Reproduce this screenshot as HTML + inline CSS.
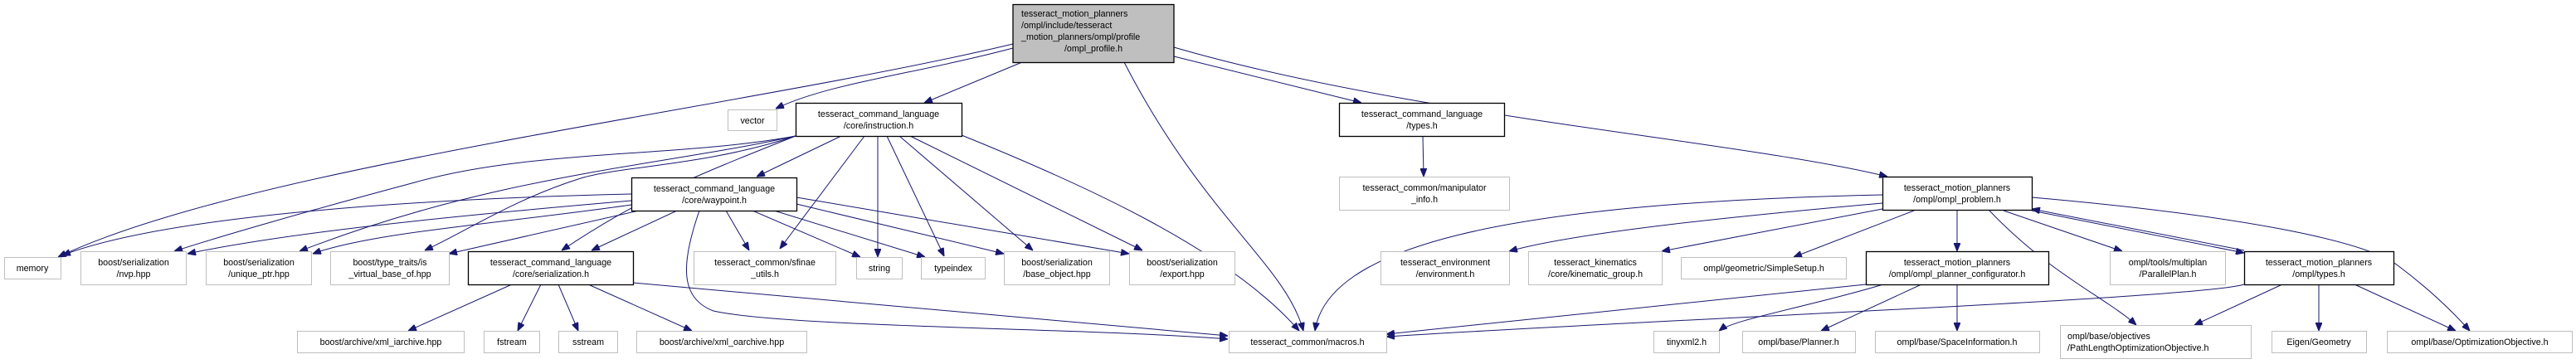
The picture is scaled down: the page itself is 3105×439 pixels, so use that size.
<!DOCTYPE html>
<html><head><meta charset="utf-8">
<style>
html,body{margin:0;padding:0;background:#fff;}
svg{display:block;}
text{font-family:"Liberation Sans",Arial,sans-serif;font-size:10.7px;fill:#000;}
.n{fill:#fff;stroke:#000;stroke-width:1.3;}
.g{fill:#fff;stroke:#bfbfbf;stroke-width:1;}
.e{fill:none;stroke:#191970;stroke-width:1;}
</style></head>
<body>
<svg width="3105" height="439" viewBox="0 0 3105 439" xmlns="http://www.w3.org/2000/svg">
<defs>
<marker id="a" markerWidth="10" markerHeight="8" refX="10" refY="4" orient="auto" markerUnits="userSpaceOnUse">
<path d="M0,0 L10,4 L0,8 Z" fill="#191970" stroke="#191970"/>
</marker>
</defs>
<g marker-end="url(#a)">
<!-- main -->
<path class="e" d="M1221,53 C900,130 300,200 70,310"/>
<path class="e" d="M1221,58 C1100,90 1000,100 935,131"/>
<path class="e" d="M1232,75 L1114,124"/>
<path class="e" d="M1355,75 C1450,260 1550,320 1571,399"/>
<path class="e" d="M1415,68 L1641,124"/>
<path class="e" d="M1415,57 C1700,140 2100,170 2275,213"/>
<!-- instruction -->
<path class="e" d="M959,164 C820,190 640,180 500,220 C350,260 250,290 210,303"/>
<path class="e" d="M959,164 C800,200 600,210 361,303"/>
<path class="e" d="M959,164 C850,200 750,200 700,215 C620,240 560,280 512,302"/>
<path class="e" d="M959,164 C830,215 770,240 677,302"/>
<path class="e" d="M1014,164 L912,213"/>
<path class="e" d="M1042,164 L940,300"/>
<path class="e" d="M1058,164 L1058,310"/>
<path class="e" d="M1069,164 L1138,309"/>
<path class="e" d="M1084,164 L1245,302"/>
<path class="e" d="M1097,164 L1377,302"/>
<path class="e" d="M1159,163 C1300,220 1480,300 1566,399"/>
<!-- waypoint -->
<path class="e" d="M761,234 C500,240 200,260 75,308"/>
<path class="e" d="M761,242 C550,260 350,280 226,306"/>
<path class="e" d="M761,247 C600,270 450,280 377,306"/>
<path class="e" d="M770,254 L541,306"/>
<path class="e" d="M816,254 L713,302"/>
<path class="e" d="M875,254 L903,302"/>
<path class="e" d="M907,254 L1037,310"/>
<path class="e" d="M843,254 C820,320 820,360 860,375 C950,395 1300,395 1480,409"/>
<path class="e" d="M933,254 L1115,310"/>
<path class="e" d="M960,246 L1210,306"/>
<path class="e" d="M960,238 L1361,306"/>
<!-- serialization.h -->
<path class="e" d="M617,343 L492,399"/>
<path class="e" d="M652,343 L624,399"/>
<path class="e" d="M673,343 L697,399"/>
<path class="e" d="M709,343 L834,399"/>
<path class="e" d="M763,341 L1480,405"/>
<!-- types.h -->
<path class="e" d="M1715,164 L1716,213"/>
<!-- ompl_problem -->
<path class="e" d="M2269,235 C1800,245 1600,300 1585,399"/>
<path class="e" d="M2269,245 C2100,260 1900,280 1819,303"/>
<path class="e" d="M2269,252 L2003,303"/>
<path class="e" d="M2307,254 L2162,310"/>
<path class="e" d="M2359,254 L2359,303"/>
<path class="e" d="M2398,254 C2470,330 2540,360 2575,392"/>
<path class="e" d="M2415,254 L2558,303"/>
<path class="e" d="M2449,254 L2705,305"/>
<path class="e" d="M2449,238 C2700,260 2850,290 2890,320 C2930,350 2960,380 2977,399"/>
<path class="e" d="M2705,302 L2449,252"/>
<!-- planner_configurator -->
<path class="e" d="M2249,343 L1671,403"/>
<path class="e" d="M2270,343 C2180,370 2090,385 2072,399"/>
<path class="e" d="M2316,343 L2195,399"/>
<path class="e" d="M2359,343 L2359,399"/>
<!-- ompl/types.h -->
<path class="e" d="M2705,343 C2650,360 2000,385 1671,406"/>
<path class="e" d="M2751,343 L2645,392"/>
<path class="e" d="M2795,343 L2795,399"/>
<path class="e" d="M2838,343 L2960,399"/>
</g>

<!-- nodes -->
<rect x="1221" y="5.5" width="194" height="70" fill="#bfbfbf" stroke="#000" stroke-width="1.3"/>
<text x="1231" y="20">tesseract_motion_planners</text>
<text x="1231" y="34">/ompl/include/tesseract</text>
<text x="1231" y="48">_motion_planners/ompl/profile</text>
<text x="1318" y="62" text-anchor="middle">/ompl_profile.h</text>

<rect class="g" x="877.5" y="132.5" width="59" height="25"/><text x="907" y="149" text-anchor="middle">vector</text>
<rect class="n" x="959.5" y="124.5" width="200" height="40"/><text x="1059" y="141" text-anchor="middle">tesseract_command_language</text><text x="1059" y="155" text-anchor="middle">/core/instruction.h</text>
<rect class="n" x="1614.5" y="124.5" width="199" height="40"/><text x="1714" y="141" text-anchor="middle">tesseract_command_language</text><text x="1714" y="155" text-anchor="middle">/types.h</text>
<rect class="g" x="1614.5" y="213.5" width="205" height="40"/><text x="1717" y="230" text-anchor="middle">tesseract_common/manipulator</text><text x="1717" y="244" text-anchor="middle">_info.h</text>
<rect class="n" x="761.5" y="214.5" width="199" height="40"/><text x="861" y="231" text-anchor="middle">tesseract_command_language</text><text x="861" y="245" text-anchor="middle">/core/waypoint.h</text>
<rect class="n" x="2269.5" y="213.5" width="180" height="40"/><text x="2359" y="230" text-anchor="middle">tesseract_motion_planners</text><text x="2359" y="244" text-anchor="middle">/ompl/ompl_problem.h</text>

<rect class="g" x="5.5" y="310.5" width="68" height="26"/><text x="39" y="327" text-anchor="middle">memory</text>
<rect class="g" x="97.5" y="303.5" width="127" height="40"/><text x="161" y="320" text-anchor="middle">boost/serialization</text><text x="161" y="334" text-anchor="middle">/nvp.hpp</text>
<rect class="g" x="248.5" y="303.5" width="127" height="40"/><text x="312" y="320" text-anchor="middle">boost/serialization</text><text x="312" y="334" text-anchor="middle">/unique_ptr.hpp</text>
<rect class="g" x="398.5" y="303.5" width="143" height="40"/><text x="470" y="320" text-anchor="middle">boost/type_traits/is</text><text x="470" y="334" text-anchor="middle">_virtual_base_of.hpp</text>
<rect class="n" x="564.5" y="303.5" width="199" height="40"/><text x="664" y="320" text-anchor="middle">tesseract_command_language</text><text x="664" y="334" text-anchor="middle">/core/serialization.h</text>
<rect class="g" x="836.5" y="303.5" width="171" height="40"/><text x="922" y="320" text-anchor="middle">tesseract_common/sfinae</text><text x="922" y="334" text-anchor="middle">_utils.h</text>
<rect class="g" x="1032.5" y="310.5" width="55" height="26"/><text x="1060" y="327" text-anchor="middle">string</text>
<rect class="g" x="1110.5" y="310.5" width="77" height="26"/><text x="1149" y="327" text-anchor="middle">typeindex</text>
<rect class="g" x="1210.5" y="303.5" width="127" height="40"/><text x="1274" y="320" text-anchor="middle">boost/serialization</text><text x="1274" y="334" text-anchor="middle">/base_object.hpp</text>
<rect class="g" x="1361.5" y="303.5" width="127" height="40"/><text x="1425" y="320" text-anchor="middle">boost/serialization</text><text x="1425" y="334" text-anchor="middle">/export.hpp</text>
<rect class="g" x="1664.5" y="303.5" width="155" height="40"/><text x="1742" y="320" text-anchor="middle">tesseract_environment</text><text x="1742" y="334" text-anchor="middle">/environment.h</text>
<rect class="g" x="1842.5" y="303.5" width="161" height="40"/><text x="1923" y="320" text-anchor="middle">tesseract_kinematics</text><text x="1923" y="334" text-anchor="middle">/core/kinematic_group.h</text>
<rect class="g" x="2026.5" y="310.5" width="199" height="26"/><text x="2126" y="327" text-anchor="middle">ompl/geometric/SimpleSetup.h</text>
<rect class="n" x="2249.5" y="303.5" width="220" height="40"/><text x="2359" y="320" text-anchor="middle">tesseract_motion_planners</text><text x="2359" y="334" text-anchor="middle">/ompl/ompl_planner_configurator.h</text>
<rect class="g" x="2543.5" y="303.5" width="139" height="40"/><text x="2613" y="320" text-anchor="middle">ompl/tools/multiplan</text><text x="2613" y="334" text-anchor="middle">/ParallelPlan.h</text>
<rect class="n" x="2705.5" y="303.5" width="180" height="40"/><text x="2795" y="320" text-anchor="middle">tesseract_motion_planners</text><text x="2795" y="334" text-anchor="middle">/ompl/types.h</text>

<rect class="g" x="358.5" y="399.5" width="201" height="26"/><text x="459" y="416" text-anchor="middle">boost/archive/xml_iarchive.hpp</text>
<rect class="g" x="583.5" y="399.5" width="67" height="26"/><text x="617" y="416" text-anchor="middle">fstream</text>
<rect class="g" x="673.5" y="399.5" width="71" height="26"/><text x="709" y="416" text-anchor="middle">sstream</text>
<rect class="g" x="767.5" y="399.5" width="205" height="26"/><text x="870" y="416" text-anchor="middle">boost/archive/xml_oarchive.hpp</text>
<rect class="g" x="1481.5" y="399.5" width="190" height="26"/><text x="1576" y="416" text-anchor="middle">tesseract_common/macros.h</text>
<rect class="g" x="1993.5" y="399.5" width="79" height="26"/><text x="2033" y="416" text-anchor="middle">tinyxml2.h</text>
<rect class="g" x="2100.5" y="399.5" width="136" height="26"/><text x="2168" y="416" text-anchor="middle">ompl/base/Planner.h</text>
<rect class="g" x="2260.5" y="399.5" width="198" height="26"/><text x="2359" y="416" text-anchor="middle">ompl/base/SpaceInformation.h</text>
<rect class="g" x="2483.5" y="392.5" width="230" height="40"/><text x="2492" y="409">ompl/base/objectives</text><text x="2492" y="423">/PathLengthOptimizationObjective.h</text>
<rect class="g" x="2738.5" y="399.5" width="114" height="26"/><text x="2795" y="416" text-anchor="middle">Eigen/Geometry</text>
<rect class="g" x="2877.5" y="399.5" width="223" height="26"/><text x="2989" y="416" text-anchor="middle">ompl/base/OptimizationObjective.h</text>
</svg>
</body></html>
